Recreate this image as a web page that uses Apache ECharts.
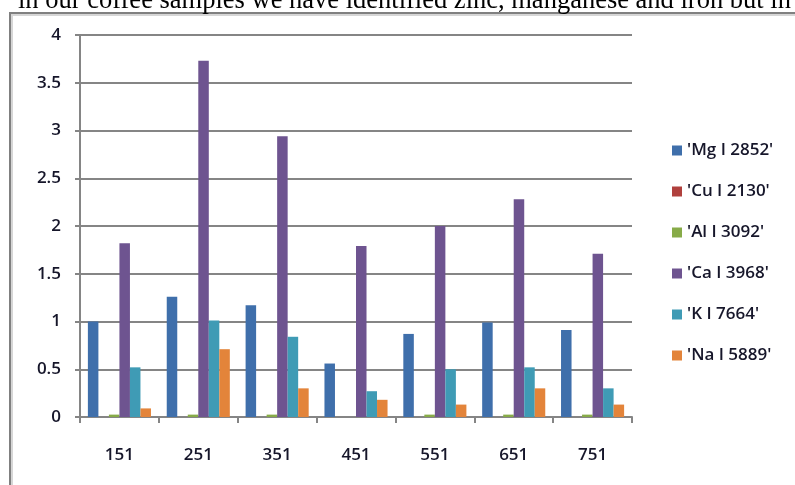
<!DOCTYPE html>
<html>
<head>
<meta charset="utf-8">
<script src="https://cdn.jsdelivr.net/npm/echarts@6/dist/echarts.min.js"></script>
<style>
  html, body { margin: 0; padding: 0; background: #ffffff; }
  #chart { width: 795px; height: 485px; }
</style>
</head>
<body>
<div id="chart"></div>
<script>
// Sample ids on the category axis
const samples = ['151', '251', '351', '451', '551', '651', '751'];

// Emission-line intensities per element
const mgI2852 = [1.00, 1.26, 1.17, 0.56, 0.87, 0.99, 0.91];
const cuI2130 = [0, 0, 0, 0, 0, 0, 0];
const alI3092 = [0.025, 0.025, 0.025, 0, 0.025, 0.025, 0.025];
const caI3968 = [1.82, 3.73, 2.94, 1.79, 2.00, 2.28, 1.71];
const kI7664  = [0.52, 1.01, 0.84, 0.27, 0.50, 0.52, 0.30];
const naI5889 = [0.09, 0.71, 0.30, 0.18, 0.13, 0.30, 0.13];

const seriesNames = ["'Mg I 2852'", "'Cu I 2130'", "'Al I 3092'", "'Ca I 3968'", "'K I 7664'", "'Na I 5889'"];
const seriesValues = [mgI2852, cuI2130, alI3092, caI3968, kI7664, naI5889];
const seriesColors = ['#3f6fab', '#b0403d', '#87ab48', '#6e5490', '#3f9bb5', '#e3843a'];

// Value-axis ticks
const yMin = 0, yMax = 4, yStep = 0.5;

const captionText = 'in our coffee samples we have identified zinc, manganese and iron but in';

const gridColor = '#858585';
const labelColor = '#16162a';
const labelFont = '"Open Sans", Lato, sans-serif';

const chart = echarts.init(document.getElementById('chart'), null, { renderer: 'canvas' });

chart.setOption({
  animation: false,
  backgroundColor: '#ffffff',
  textStyle: { fontFamily: labelFont },
  grid: { left: 80, right: 163, top: 35, bottom: 68, containLabel: false },
  legend: {
    orient: 'vertical',
    left: 667,
    top: 137,
    itemWidth: 10,
    itemHeight: 10,
    itemGap: 24,
    icon: 'rect',
    data: seriesNames,
    textStyle: { color: labelColor, fontSize: 17, fontWeight: 600, fontFamily: labelFont, lineHeight: 16 }
  },
  xAxis: {
    type: 'category',
    data: samples,
    axisLine: { show: true, lineStyle: { color: gridColor, width: 2 } },
    axisTick: { show: true, alignWithLabel: false, length: 6, lineStyle: { color: gridColor, width: 2 } },
    axisLabel: { color: labelColor, fontSize: 17, fontWeight: 600, margin: 30, fontFamily: labelFont }
  },
  yAxis: {
    type: 'value',
    min: yMin,
    max: yMax,
    interval: yStep,
    axisLine: { show: true, lineStyle: { color: gridColor, width: 2 } },
    axisTick: { show: true, length: 5, lineStyle: { color: gridColor, width: 2 } },
    splitLine: { show: true, lineStyle: { color: gridColor, width: 2 } },
    axisLabel: { color: labelColor, fontSize: 17, fontWeight: 600, margin: 19, fontFamily: labelFont }
  },
  series: seriesNames.map((name, i) => ({
    name: name,
    type: 'bar',
    data: seriesValues[i],
    barGap: '0%',
    barCategoryGap: '20%',
    itemStyle: { color: seriesColors[i] }
  })),
  graphic: [
    // frame around the figure (left and top edges)
    {
      type: 'polyline',
      silent: true,
      shape: { points: [[12, 485], [12, 15], [795, 15]] },
      style: { stroke: '#d6d6d6', lineWidth: 2, fill: null }
    },
    {
      type: 'polyline',
      silent: true,
      shape: { points: [[10, 485], [10, 13], [795, 13]] },
      style: { stroke: '#808080', lineWidth: 2, fill: null }
    },
    // running text above the figure
    {
      type: 'text',
      silent: true,
      style: {
        text: captionText,
        x: 18,
        y: 15,
        textVerticalAlign: 'bottom',
        fill: '#000000',
        font: '26.5px "Liberation Serif", "DejaVu Serif", serif'
      }
    }
  ]
});
</script>
</body>
</html>
